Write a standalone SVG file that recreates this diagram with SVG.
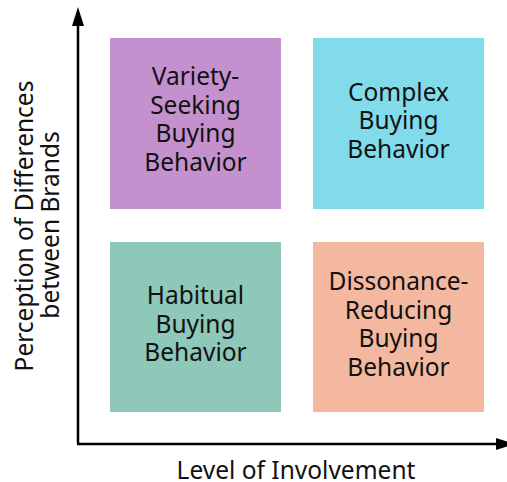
<svg xmlns="http://www.w3.org/2000/svg" width="507" height="482" viewBox="0 0 507 482">
<style>
text{font-family:"Noto Sans","Open Sans","DejaVu Sans",sans-serif;font-size:24.5px;fill:#111;text-anchor:middle}
.ax{fill:none;stroke:#000;stroke-width:2.5}
</style>
<defs>
<marker id="ah" markerWidth="19" markerHeight="12" refX="0" refY="6" orient="auto" markerUnits="userSpaceOnUse">
<path d="M0,0 L19,6 L0,12 Z" fill="#000"/>
</marker>
</defs>
<rect width="507" height="482" fill="#fff"/>
<g id="connectors">
<path class="ax" d="M78,444 L78,26" marker-end="url(#ah)"/>
<path class="ax" d="M77,444 L496,444" marker-end="url(#ah)"/>
</g>
<g id="variety">
<rect x="110" y="38" width="171" height="171" fill="#C491CE"/>
<text x="195.5" y="85">Variety-</text>
<text x="195.5" y="113.5">Seeking</text>
<text x="195.5" y="142">Buying</text>
<text x="195.5" y="171">Behavior</text>
</g>
<g id="complex">
<rect x="313" y="38" width="171" height="171" fill="#81DBEB"/>
<text x="398.5" y="100.5">Complex</text>
<text x="398.5" y="129">Buying</text>
<text x="398.5" y="157.5">Behavior</text>
</g>
<g id="habitual">
<rect x="110" y="242" width="171" height="170" fill="#8DC8B8"/>
<text x="195.5" y="304">Habitual</text>
<text x="195.5" y="332.5">Buying</text>
<text x="195.5" y="361">Behavior</text>
</g>
<g id="dissonance">
<rect x="313" y="242" width="171" height="170" fill="#F4B8A0"/>
<text x="398.5" y="290">Dissonance-</text>
<text x="398.5" y="318.5">Reducing</text>
<text x="398.5" y="347">Buying</text>
<text x="398.5" y="375.5">Behavior</text>
</g>
<g id="xlabel">
<text x="296" y="478.5">Level of Involvement</text>
</g>
<g id="ylabel">
<text transform="translate(33,226) rotate(-90)">Perception of Differences</text>
<text transform="translate(59,225) rotate(-90)">between Brands</text>
</g>
</svg>
